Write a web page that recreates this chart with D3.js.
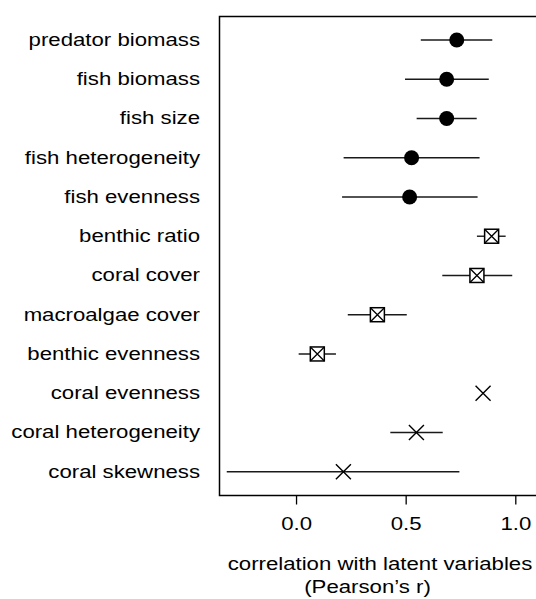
<!DOCTYPE html>
<html>
<head>
<meta charset="utf-8">
<script src="https://cdn.jsdelivr.net/npm/d3@7"></script>
<style>
  body { margin: 0; background: #fff; }
  svg { display: block; }
  text { font-family: "Liberation Sans", Arial, sans-serif; fill: #000; }
</style>
</head>
<body>
<svg id="chart" width="536" height="599"></svg>
<script>
// ---- data ----
const categories = [
  "predator biomass", "fish biomass", "fish size", "fish heterogeneity",
  "fish evenness", "benthic ratio", "coral cover", "macroalgae cover",
  "benthic evenness", "coral evenness", "coral heterogeneity", "coral skewness"
];
const estimate = [0.733, 0.687, 0.687, 0.527, 0.518, 0.892, 0.825, 0.371, 0.097, 0.853, 0.549, 0.216];
const lower    = [0.569, 0.497, 0.550, 0.217, 0.210, 0.825, 0.667, 0.236, 0.012, 0.853, 0.430, -0.316];
const upper    = [0.895, 0.879, 0.824, 0.837, 0.828, 0.956, 0.986, 0.505, 0.182, 0.853, 0.669, 0.745];
const group    = ["fish", "fish", "fish", "fish", "fish", "benthic", "benthic", "benthic", "benthic", "coral", "coral", "coral"];
const xTicks = [0, 0.5, 1.0];
const xTitle = ["correlation with latent variables", "(Pearson\u2019s r)"];

const rows = categories.map((c, i) => ({ cat: c, est: estimate[i], lo: lower[i], hi: upper[i], grp: group[i] }));

// ---- layout ----
const svg = d3.select("#chart");
const box = { left: 219.5, top: 16.5, right: 592, bottom: 495.5 };
const FS = 18.5, SX = 1.2;   // text is horizontally stretched in the reference

const x = d3.scaleLinear().domain([-0.35, 1.0]).range([219.3, 515.3]);
const y = d3.scalePoint().domain(categories).range([40, 471.7]);

function label(sel, px, py, anchor, txt) {
  sel.append("text")
    .attr("transform", `translate(${px},${py}) scale(${SX},1)`)
    .attr("text-anchor", anchor).style("font-size", FS + "px")
    .text(txt);
}

// plot box
svg.append("rect")
  .attr("x", box.left).attr("y", box.top)
  .attr("width", box.right - box.left).attr("height", box.bottom - box.top)
  .attr("fill", "none").attr("stroke", "#000").attr("stroke-width", 1.5);

// x axis
const xAxis = d3.axisBottom(x).tickValues(xTicks).tickFormat(d3.format(".1f")).tickSize(9).tickSizeOuter(0);
const gx = svg.append("g").attr("transform", `translate(0,${box.bottom})`).call(xAxis);
gx.select(".domain").remove();
gx.selectAll(".tick line").attr("stroke", "#000").attr("stroke-width", 1.3);
gx.selectAll(".tick text")
  .attr("y", 0).attr("dy", null)
  .attr("transform", `translate(0,34) scale(${SX},1)`)
  .style("font-size", FS + "px").style("font-family", "Liberation Sans, Arial, sans-serif");

// y labels
const gy = svg.append("g");
categories.forEach(c => label(gy, 200, y(c) + 6, "end", c));

// axis title
label(svg, 380, 569.5, "middle", xTitle[0]);
label(svg, 367.5, 592.5, "middle", xTitle[1]);

// error bars
svg.append("g").selectAll("line").data(rows.filter(d => d.hi > d.lo)).join("line")
  .attr("x1", d => x(d.lo)).attr("x2", d => x(d.hi))
  .attr("y1", d => y(d.cat)).attr("y2", d => y(d.cat))
  .attr("stroke", "#1a1a1a").attr("stroke-width", 1.4);

// markers
const g = svg.append("g");
g.selectAll("circle").data(rows.filter(d => d.grp === "fish")).join("circle")
  .attr("cx", d => x(d.est)).attr("cy", d => y(d.cat)).attr("r", 7.5).attr("fill", "#000");

const s = 7;
const bx = g.selectAll("g.bx").data(rows.filter(d => d.grp === "benthic")).join("g")
  .attr("class", "bx").attr("transform", d => `translate(${x(d.est)},${y(d.cat)})`);
bx.append("rect").attr("x", -s).attr("y", -s).attr("width", 2 * s).attr("height", 2 * s)
  .attr("fill", "#fff").attr("stroke", "#000").attr("stroke-width", 1.5);
bx.append("path").attr("d", `M${-s},${-s}L${s},${s}M${-s},${s}L${s},${-s}`)
  .attr("stroke", "#000").attr("stroke-width", 1.3);

const c = 7.5;
g.selectAll("path.cx").data(rows.filter(d => d.grp === "coral")).join("path")
  .attr("class", "cx")
  .attr("d", d => { const px = x(d.est), py = y(d.cat);
    return `M${px - c},${py - c}L${px + c},${py + c}M${px - c},${py + c}L${px + c},${py - c}`; })
  .attr("stroke", "#000").attr("stroke-width", 1.4).attr("fill", "none");
</script>
</body>
</html>
